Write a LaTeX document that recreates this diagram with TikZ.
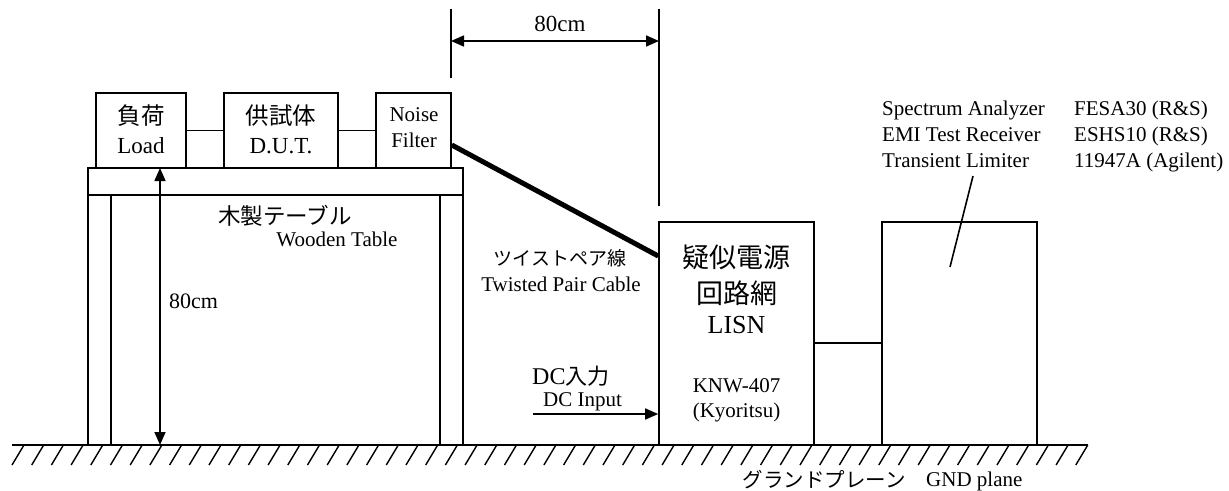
\documentclass[tikz,border=0pt]{standalone}
\usepackage{fontspec}
\setmainfont{Liberation Serif}
\newfontfamily\ja{Noto Sans CJK JP}
\usetikzlibrary{arrows.meta,calc}
\tikzset{
  ln/.style={line width=1.6pt},
  boxnode/.style={draw,line width=1.6pt,inner sep=0pt,minimum width=#1},
  en/.style={inner sep=0pt,font=\fontsize{21}{25}\selectfont},
  jp/.style={inner sep=0pt},
  tip/.style={-{Triangle[length=13pt,width=11pt]}},
  dtip/.style={{Triangle[length=13pt,width=11pt]}-{Triangle[length=13pt,width=11pt]}},
}
\begin{document}
\begin{tikzpicture}[x=1pt,y=-1pt]
\useasboundingbox (0,0) rectangle (1229,490);
% equipment boxes on the table
\node[boxnode=90pt,minimum height=75pt] (load) at (141,130.5) {};
\node[boxnode=114pt,minimum height=75pt] (dut) at (281,130.5) {};
\node[boxnode=75pt,minimum height=75pt] (filt) at (413.5,130.5) {};
\draw[ln] (load.east) -- (dut.west);
\draw[ln] (dut.east) -- (filt.west);
% table
\node[boxnode=375pt,minimum height=27pt] (top) at (275.5,181.5) {};
\node[boxnode=23pt,minimum height=250pt] (legL) at (99.5,320) {};
\node[boxnode=23pt,minimum height=250pt] (legR) at (451.5,320) {};
% LISN and analyzer
\node[boxnode=155pt,minimum height=223pt] (lisn) at (736.5,333.5) {};
\node[boxnode=155pt,minimum height=223pt] (ana) at (959.5,333.5) {};
\coordinate (c343) at (0,343);
\draw[ln] (lisn.east |- c343) -- (ana.west |- c343);
% twisted pair cable
\coordinate (c145) at (0,145);
\coordinate (c256) at (0,256);
\draw[line width=5pt] (filt.east |- c145) -- (lisn.west |- c256);
% ground plane
\coordinate (g0) at (12,445);
\coordinate (g1) at (1088,445);
\draw[ln] (g0) -- (g1);
\foreach \i in {0,...,54} {
  \draw[line width=1.4pt] (24+\i*19.7,445) -- (12+\i*19.7,465);
}
% 80cm horizontal dimension
\coordinate (dLt) at (451,9);
\coordinate (dLb) at (451,78);
\coordinate (dRt) at (659,9);
\coordinate (dRb) at (659,206);
\draw[ln] (dLt) -- (dLb);
\draw[ln] (dRt) -- (dRb);
\coordinate (aL) at (451,41);
\coordinate (aR) at (659,41);
\draw[ln,dtip] (aL) -- (aR);
\node[en,anchor=base,font=\fontsize{23}{27}\selectfont] (d80a) at (560,31) {80cm};
% 80cm vertical dimension
\coordinate (vT) at (160,168);
\coordinate (vB) at (160,445);
\draw[ln,dtip] (vT) -- (vB);
\node[en,anchor=base west,font=\fontsize{22}{26}\selectfont] (d80b) at (169,308) {80cm};
% DC input arrow
\coordinate (dcs) at (533,414);
\draw[ln,tip] (dcs) -- (lisn.west |- dcs);
% pointer line
\coordinate (p1) at (973,176);
\coordinate (p2) at (950,267);
\draw[ln] (p1) -- (p2);
% labels
\node[jp,font=\ja\fontsize{23.5}{28}\selectfont] (t1) at (141,116) {負荷};
\node[en,anchor=base,font=\fontsize{23}{27}\selectfont] (t2) at (141,153) {Load};
\node[jp,font=\ja\fontsize{23.5}{28}\selectfont] (t3) at (281,116) {供試体};
\node[en,anchor=base,font=\fontsize{23}{27}\selectfont] (t4) at (281,153) {D.U.T.};
\node[en,anchor=base] (t5) at (414,121) {Noise};
\node[en,anchor=base] (t6) at (414,147) {Filter};
\node[jp,font=\ja\fontsize{22.5}{27}\selectfont] (t7) at (285,216) {木製テーブル};
\node[en,anchor=base] (t8) at (337,246) {Wooden Table};
\node[jp,font=\ja\fontsize{19}{23}\selectfont] (t9) at (560,258) {ツイストペア線};
\node[en,anchor=base] (t10) at (561,291) {Twisted Pair Cable};
\node[jp,font=\ja\fontsize{27}{32}\selectfont] (t11) at (736.5,257) {疑似電源};
\node[jp,font=\ja\fontsize{27}{32}\selectfont] (t12) at (736.5,293) {回路網};
\node[en,anchor=base,font=\fontsize{26}{30}\selectfont] (t13) at (736.5,333) {LISN};
\node[en,anchor=base] (t14) at (736.5,392) {KNW-407};
\node[en,anchor=base] (t15) at (736.5,417) {(Kyoritsu)};
\node[en,anchor=base west,font=\fontsize{24}{28}\selectfont] (t16) at (532,384) {DC{\ja\fontsize{22}{26}\selectfont 入力}};
\node[en,anchor=base west] (t17) at (543,406) {DC Input};
\node[jp,font=\ja\fontsize{20.5}{25}\selectfont] (t18) at (824,480) {グランドプレーン};
\node[en,anchor=base west] (t19) at (926,486) {GND plane};
\node[en,anchor=base west] (t20) at (882,115) {Spectrum Analyzer};
\node[en,anchor=base west] (t21) at (882,141) {EMI Test Receiver};
\node[en,anchor=base west] (t22) at (882,167) {Transient Limiter};
\node[en,anchor=base west] (t23) at (1074,115) {FESA30 (R\&S)};
\node[en,anchor=base west] (t24) at (1074,141) {ESHS10 (R\&S)};
\node[en,anchor=base west] (t25) at (1074,167) {11947A (Agilent)};
\end{tikzpicture}
\end{document}
